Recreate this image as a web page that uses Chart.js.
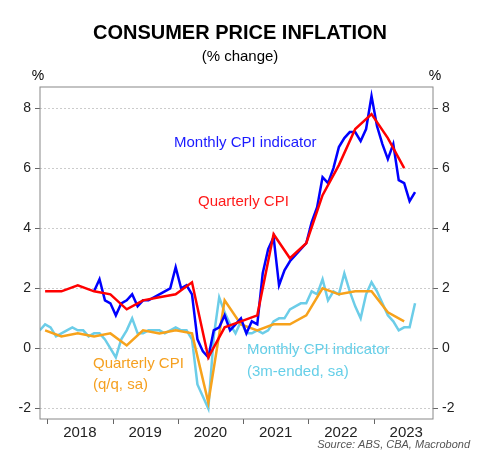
<!DOCTYPE html>
<html>
<head>
<meta charset="utf-8">
<script src="https://cdn.jsdelivr.net/npm/chart.js@4/dist/chart.umd.min.js"></script>
<style>
  body { margin: 0; background: #fff; }
</style>
</head>
<body>
<canvas id="chart" width="481" height="464"></canvas>
<script>
// Series: start year, start month (1-12), then values
const quarterlyCpiStart = [2017, 12];
const quarterlyCpi = [1.9, 1.9, 2.1, 1.9, 1.8, 1.3, 1.6, 1.7, 1.8, 2.2, -0.3, 0.7, 0.9, 1.1, 3.8, 3.0, 3.5, 5.1, 6.1, 7.3, 7.8, 7.0, 6.0];

const monthlyCpiStart = [2018, 9];
const monthlyCpi = [1.9, 2.3, 1.6, 1.5,
  1.1, 1.5, 1.6, 1.8, 1.4, 1.6, 1.6, 1.7, 1.8, 1.9, 2.0, 2.7,
  2.0, 2.1, 1.8, 0.3, -0.1, -0.3, 0.6, 0.7, 1.1, 0.6, 0.8, 1.0,
  0.5, 0.9, 0.8, 2.5, 3.3, 3.7, 2.1, 2.6, 2.9, 3.1, 3.3, 3.5,
  4.2, 4.7, 5.7, 5.5, 6.0, 6.7, 7.0, 7.2, 7.2, 6.9, 7.3, 8.4,
  7.4, 6.8, 6.3, 6.8, 5.6, 5.5, 4.9, 5.2];

const quarterlyQqStart = [2017, 12];
const quarterlyQq = [0.6, 0.4, 0.5, 0.4, 0.5, 0.1, 0.6, 0.5, 0.6, 0.5, -1.8, 1.6, 0.8, 0.6, 0.8, 0.8, 1.1, 2.0, 1.8, 1.9, 1.9, 1.2, 0.9];

const monthly3mStart = [2017, 11];
const monthly3m = [0.6, 0.8,
  0.7, 0.4, 0.5, 0.6, 0.7, 0.6, 0.6, 0.4, 0.5, 0.5, 0.3, 0.0,
  -0.3, 0.3, 0.6, 1.0, 0.5, 0.5, 0.6, 0.6, 0.6, 0.5, 0.6, 0.7,
  0.6, 0.6, 0.3, -1.2, -1.6, -2.0, 0.4, 1.7, 1.2, 0.8, 0.5, 0.9,
  0.5, 0.5, 0.6, 0.5, 0.6, 0.9, 1.0, 1.0, 1.3, 1.4, 1.5, 1.5,
  1.9, 1.8, 2.3, 1.6, 1.9, 1.8, 2.5, 1.9, 1.4, 1.0, 1.8, 2.2,
  1.9, 1.5, 1.1, 0.9, 0.6, 0.7, 0.7, 1.5];

const yearTicks = [2018, 2019, 2020, 2021, 2022, 2023];
const yTicks = [-2, 0, 2, 4, 6, 8];

function toPoints(start, values, step) {
  return values.map((v, i) => {
    const m = start[1] - 1 + i * step;
    return { x: start[0] + (m + 0.5) / 12, y: v };
  });
}

const FONT = "'Liberation Sans', Arial, sans-serif";

const textPlugin = {
  id: "texts",
  afterDraw(chart) {
    const ctx = chart.ctx, a = chart.chartArea;
    ctx.save();
    ctx.strokeStyle = "#888";
    ctx.lineWidth = 1;
    ctx.strokeRect(a.left, a.top, a.right - a.left, a.bottom - a.top);

    ctx.fillStyle = "#000";
    ctx.textAlign = "center";
    ctx.textBaseline = "middle";
    ctx.font = "bold 20px " + FONT;
    ctx.fillText("CONSUMER PRICE INFLATION", 240, 33);
    ctx.font = "15px " + FONT;
    ctx.fillText("(% change)", 240, 57);
    ctx.font = "14px " + FONT;
    ctx.fillText("%", 38, 76);
    ctx.fillText("%", 435, 76);

    ctx.font = "15px " + FONT;
    ctx.textAlign = "left";
    ctx.fillStyle = "#1a1aff";
    ctx.fillText("Monthly CPI indicator", 174, 143);
    ctx.fillStyle = "#ff1a1a";
    ctx.fillText("Quarterly CPI", 198, 202);
    ctx.fillStyle = "#f5a020";
    ctx.fillText("Quarterly CPI", 93, 364);
    ctx.fillText("(q/q, sa)", 93, 385);
    ctx.fillStyle = "#66cfe8";
    ctx.fillText("Monthly CPI indicator", 247, 350);
    ctx.fillText("(3m-ended, sa)", 247, 372);

    ctx.fillStyle = "#555";
    ctx.textAlign = "right";
    ctx.font = "italic 11px " + FONT;
    ctx.fillText("Source: ABS, CBA, Macrobond", 470, 445);
    ctx.restore();
  }
};

function line(label, data, color, order) {
  return { label, data, borderColor: color, borderWidth: 2.5, pointRadius: 0, tension: 0, order };
}

new Chart(document.getElementById("chart"), {
  type: "line",
  data: {
    datasets: [
      line("Quarterly CPI", toPoints(quarterlyCpiStart, quarterlyCpi, 3), "#ff0000", 0),
      line("Monthly CPI indicator", toPoints(monthlyCpiStart, monthlyCpi, 1), "#0000ff", 1),
      line("Quarterly CPI (q/q, sa)", toPoints(quarterlyQqStart, quarterlyQq, 3), "#f7a21b", 2),
      line("Monthly CPI indicator (3m-ended, sa)", toPoints(monthly3mStart, monthly3m, 1), "#6ccde8", 3)
    ]
  },
  options: {
    responsive: false,
    animation: false,
    layout: { padding: { top: 87, left: 0, right: 0, bottom: 0 } },
    plugins: { legend: { display: false }, tooltip: { enabled: false } },
    scales: {
      x: {
        type: "linear",
        min: 2017.88,
        max: 2023.9,
        afterBuildTicks: s => { s.ticks = yearTicks.map(v => ({ value: v })); },
        afterFit: s => { s.height = 45; },
        ticks: {
          callback: v => String(v),
          labelOffset: 32,
          color: "#222",
          font: { size: 15, family: FONT },
          padding: 0,
          maxRotation: 0
        },
        grid: { drawOnChartArea: false, tickLength: 5, color: "#666", tickBorderDash: [] },
        border: { display: false }
      },
      y: {
        position: "left",
        min: -2.35,
        max: 8.7,
        afterBuildTicks: s => { s.ticks = yTicks.map(v => ({ value: v })); },
        afterFit: s => { s.width = 40; },
        ticks: { color: "#222", font: { size: 14, family: FONT }, padding: 4 },
        grid: { color: "#ccc", tickColor: "#666", tickLength: 5, tickBorderDash: [] },
        border: { display: false, dash: [2, 2] }
      },
      y2: {
        position: "right",
        min: -2.35,
        max: 8.7,
        afterBuildTicks: s => { s.ticks = yTicks.map(v => ({ value: v })); },
        afterFit: s => { s.width = 48; },
        ticks: { color: "#222", font: { size: 14, family: FONT }, padding: 4 },
        grid: { drawOnChartArea: false, tickColor: "#666", tickLength: 5 },
        border: { display: false }
      }
    }
  },
  plugins: [textPlugin]
});
</script>
</body>
</html>
